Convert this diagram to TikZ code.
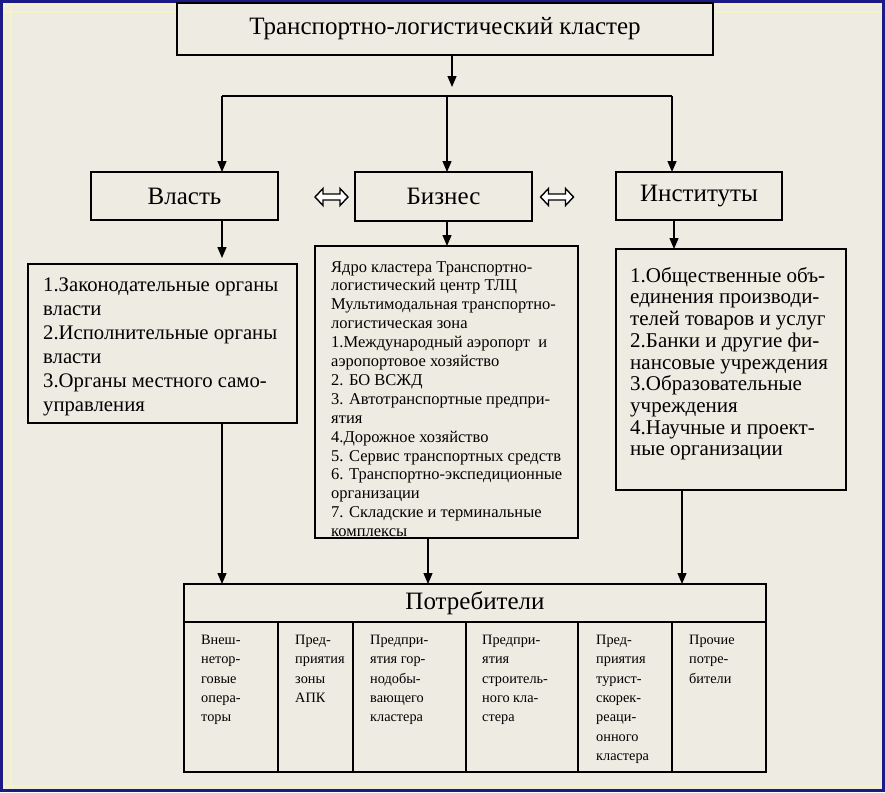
\documentclass[tikz,border=0pt]{standalone}
\usepackage{fontspec}
\setmainfont{Liberation Serif}
\usetikzlibrary{arrows.meta,calc}
\definecolor{bg}{HTML}{EEEBE2}
\definecolor{framec}{HTML}{1C1A86}
\definecolor{faint}{HTML}{F4F2C6}
\begin{document}
\begin{tikzpicture}[x=1pt,y=-1pt,
  box/.style={draw=black, line width=1.3pt, fill=bg, inner sep=0pt, outer sep=0pt},
  conn/.style={line width=1.3pt, -{Triangle[length=11pt,width=9pt]}},
  plain/.style={line width=1.3pt},
  txt/.style={inner sep=0pt, anchor=north west, align=left},
  dbl/.style={draw=black, fill=white, line width=1.4pt, line join=miter},
  fT/.style={font=\fontsize{25}{28}\selectfont},
  fH/.style={font=\fontsize{25}{28}\selectfont},
  fL/.style={font=\fontsize{20.7}{24}\selectfont},
  fR/.style={font=\fontsize{21}{21.7}\selectfont},
  fB/.style={font=\fontsize{16.5}{18.9}\selectfont},
  fC/.style={font=\fontsize{14.3}{19.3}\selectfont}
]
\useasboundingbox (0,0) rectangle (885,792);
\fill[bg] (0,0) rectangle (885,792);
\draw[faint, line width=2pt] (0,5) -- (885,5) (0,12) -- (885,12) (4,0) -- (4,792) (11,0) -- (11,792) (0,786) -- (885,786);
\draw[framec, line width=3pt] (1.5,1.5) rectangle (883.5,790.5);

% top
\node[box, minimum width=536pt, minimum height=52pt, fT] (top) at (445,29) {Транспортно-логистический кластер};

% second level
\node[box, minimum width=187pt, minimum height=48pt, fH] (vl) at (184.5,196) {Власть};
\node[box, minimum width=177pt, minimum height=49pt, fH] (bz) at (443.5,196.5) {Бизнес};
\node[box, minimum width=166pt, minimum height=48pt, fH] (in) at (699,196) {Институты};

% third level boxes
\node[box, minimum width=269pt, minimum height=159pt] (lb) at (162.5,343.5) {};
\node[box, minimum width=263pt, minimum height=292pt] (bb) at (446.5,392) {};
\node[box, minimum width=230pt, minimum height=241pt] (rb) at (731,369.5) {};

\node[txt, fL] (lbt) at (43,278) {1.Законодательные органы\\власти\\2.Исполнительные органы\\власти\\3.Органы местного само-\\управления};
\node[txt, fB] (bbt) at (331,261) {Ядро кластера Транспортно-\\логистический центр ТЛЦ\\Мультимодальная транспортно-\\логистическая зона\\1.Международный аэропорт\ \ и\\аэропортовое хозяйство\\2. БО ВСЖД\\3. Автотранспортные предпри-\\ятия\\4.Дорожное хозяйство\\5. Сервис транспортных средств\\6. Транспортно-экспедиционные\\организации\\7. Складские и терминальные\\комплексы};
\node[txt, fR] (rbt) at (630,267) {1.Общественные объ-\\единения производи-\\телей товаров и услуг\\2.Банки и другие фи-\\нансовые учреждения\\3.Образовательные\\учреждения\\4.Научные и проект-\\ные организации};

% consumers
\node[box, minimum width=582pt, minimum height=38pt, fH] (ch) at (475,603) {Потребители};
\node[box, minimum width=94pt, minimum height=150pt, anchor=north west] (c1) at (ch.south west) {};
\node[box, minimum width=75pt, minimum height=150pt, anchor=north west] (c2) at (c1.north east) {};
\node[box, minimum width=113pt, minimum height=150pt, anchor=north west] (c3) at (c2.north east) {};
\node[box, minimum width=112pt, minimum height=150pt, anchor=north west] (c4) at (c3.north east) {};
\node[box, minimum width=94pt, minimum height=150pt, anchor=north west] (c5) at (c4.north east) {};
\node[box, minimum width=94pt, minimum height=150pt, anchor=north west] (c6) at (c5.north east) {};

\node[txt, fC] (t1) at (201,635) {Внеш-\\нетор-\\говые\\опера-\\торы};
\node[txt, fC] (t2) at (295,635) {Пред-\\приятия\\зоны\\АПК};
\node[txt, fC] (t3) at (370,635) {Предпри-\\ятия гор-\\нодобы-\\вающего\\кластера};
\node[txt, fC] (t4) at (482,635) {Предпри-\\ятия\\строитель-\\ного кла-\\стера};
\node[txt, fC] (t5) at (596,635) {Пред-\\приятия\\турист-\\скорек-\\реаци-\\онного\\кластера};
\node[txt, fC] (t6) at (689,635) {Прочие\\потре-\\бители};

% connectors from top
\coordinate (bar) at (447,96);
\coordinate (barL) at (222,96);
\coordinate (barR) at (672,96);
\draw[conn] (top.south -| 452,0) -- (452,87);
\draw[plain] (barL) -- (barR);
\draw[conn] (barL) -- (vl.north -| barL);
\draw[conn] (bar) -- (bz.north -| bar);
\draw[conn] (barR) -- (in.north -| barR);

% connectors to third level
\draw[conn, shorten >=6pt] (vl.south -| 222,0) -- (lb.north -| 222,0);
\draw[conn] (bz.south -| 447,0) -- (bb.north -| 447,0);
\draw[conn] (in.south -| 674,0) -- (rb.north -| 674,0);

% connectors to consumers
\draw[conn] (lb.south -| 222,0) -- (ch.north -| 222,0);
\draw[conn] (bb.south -| 428,0) -- (ch.north -| 428,0);
\draw[conn] (rb.south -| 682,0) -- (ch.north -| 682,0);

% double arrows
\coordinate (da1) at (331.5,197);
\coordinate (da2) at (557,197);
\foreach \c in {da1,da2}{
  \draw[dbl] (\c) ++(-16.5,0) -- ++(8,-8.5) -- ++(0,5.5) -- ++(17,0) -- ++(0,-5.5) -- ++(8,8.5) -- ++(-8,8.5) -- ++(0,-5.5) -- ++(-17,0) -- ++(0,5.5) -- cycle;
}
\end{tikzpicture}
\end{document}
